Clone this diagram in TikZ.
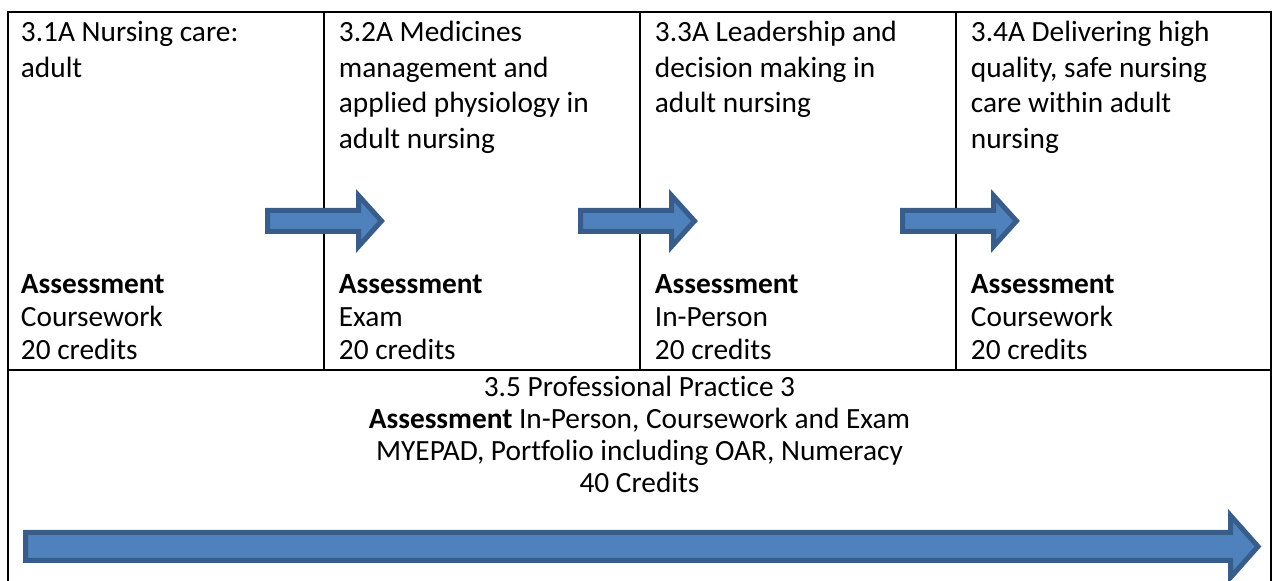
\documentclass[tikz,border=0pt]{standalone}
\usepackage{fontspec}
\setmainfont{Carlito}[Ligatures=NoCommon]
\usetikzlibrary{calc}

\begin{document}
\begin{tikzpicture}[x=0.5pt,y=-0.5pt,
    rule/.style={line width=1pt},
    blockarrow/.style={fill=arrowfill, draw=arrowline, line width=2.5pt},
    title/.style={anchor=north west, inner sep=0pt, align=left,
      font=\fontsize{14.67}{17.75}\selectfont},
    assess/.style={anchor=south west, inner sep=0pt, align=left,
      font=\fontsize{14.67}{16.5}\selectfont},
    practice/.style={anchor=south, inner sep=0pt, align=center,
      font=\fontsize{14.67}{16}\selectfont}]
    \definecolor{arrowfill}{HTML}{4F81BD}
    \definecolor{arrowline}{HTML}{385D8A}
    \useasboundingbox (0,0) rectangle (1275,581);

    \coordinate (TL) at (8,12);
    \coordinate (TR) at (1271,12);
    \coordinate (ML) at (8,370);
    \coordinate (MR) at (1271,370);
    \coordinate (BL) at (8,581);
    \coordinate (BR) at (1271,581);

    % table lines
    \draw [rule] (BL) -- (TL) -- (TR) -- (BR);
    \draw [rule] (ML) -- (MR);
    \foreach \x in {324,640,956}
        \draw [rule] (\x,12) -- (\x,370);

    % small arrows between the modules
    \foreach \x in {267.5,580.5,902.5}
        \draw [blockarrow] (\x,210.5) -- ++(91,0) -- ++(0,-15) -- ++(23,25.5)
            -- ++(-23,25.5) -- ++(0,-15) -- ++(-91,0) -- cycle;

    % long arrow for practice
    \draw [blockarrow] (25.5,532.5) -- (1230.5,532.5) -- (1230.5,515.5) -- (1258,546.5)
        -- (1230.5,577.5) -- (1230.5,560.5) -- (25.5,560.5) -- cycle;

    \node [title] (m1) at (20.5,21) {3.1A Nursing care:\\adult};
    \node [title] (m2) at (338.5,21) {3.2A Medicines\\management and\\applied physiology in\\adult nursing};
    \node [title] (m3) at (654.5,21) {3.3A Leadership and\\decision making in\\adult nursing};
    \node [title] (m4) at (970.5,21) {3.4A Delivering high\\quality, safe nursing\\care within adult\\nursing};

    \node [assess] (a1) at (20.5,360) {\textbf{Assessment}\\Coursework\\20 credits};
    \node [assess] (a2) at (338.5,360) {\textbf{Assessment}\\Exam\\20 credits};
    \node [assess] (a3) at (654.5,360) {\textbf{Assessment}\\In-Person\\20 credits};
    \node [assess] (a4) at (970.5,360) {\textbf{Assessment}\\Coursework\\20 credits};

    \node [practice] (p5) at (639.5,493) {3.5 Professional Practice 3\\\textbf{Assessment} In-Person, Coursework and Exam\\MYEPAD, Portfolio including OAR, Numeracy\\40 Credits};
\end{tikzpicture}
\end{document}
